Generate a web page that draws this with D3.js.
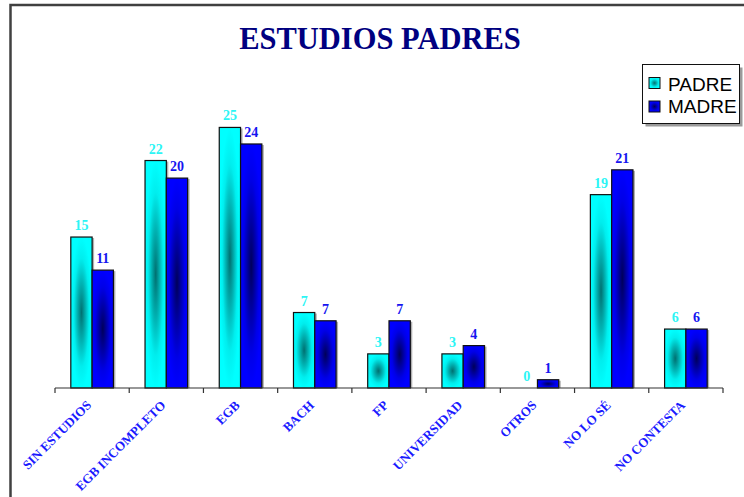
<!DOCTYPE html>
<html>
<head>
<meta charset="utf-8">
<script src="https://cdn.jsdelivr.net/npm/d3@7"></script>
<style>
  body { margin: 0; background: #fff; }
  svg { display: block; }
</style>
</head>
<body>
<div id="chart"></div>
<script>
// datos (porcentaje sobre 123 respuestas), etiquetas redondeadas
const categorias = ["SIN ESTUDIOS", "EGB INCOMPLETO", "EGB", "BACH", "FP", "UNIVERSIDAD", "OTROS", "NO LO SÉ", "NO CONTESTA"]
const padre = [14.6, 22.0, 25.2, 7.3, 3.3, 3.3, 0, 18.7, 5.7]
const madre = [11.4, 20.3, 23.6, 6.5, 6.5, 4.1, 0.8, 21.1, 5.7]
const series = ["PADRE", "MADRE"]

const width = 744, height = 497
const serif = '"Liberation Serif", "Times New Roman", serif'

const svg = d3.select("#chart").append("svg")
  .attr("width", width)
  .attr("height", height)

// degradados tipo "desde el centro"
const defs = svg.append("defs")
function grad(id, stops) {
  const g = defs.append("radialGradient").attr("id", id)
    .attr("cx", 0.5).attr("cy", 0.5).attr("r", 0.5)
  stops.forEach(s => g.append("stop").attr("offset", s[0]).attr("stop-color", s[1]))
}
grad("gPadre", [[0, "#007070"], [0.4, "#00b4b4"], [0.72, "#00eeee"], [1, "#00ffff"]])
grad("gMadre", [[0, "#00005a"], [0.4, "#0000aa"], [0.72, "#0000e8"], [1, "#0000ff"]])

// marco del gráfico
svg.append("rect")
  .attr("x", 10.5).attr("y", 5)
  .attr("width", 780).attr("height", 520)
  .attr("fill", "none")
  .attr("stroke", "#404040")
  .attr("stroke-width", 2.5)

// titulo
svg.append("text")
  .attr("x", 380).attr("y", 49)
  .attr("text-anchor", "middle")
  .attr("font-family", serif)
  .attr("font-weight", "bold")
  .attr("font-size", 30.5)
  .attr("fill", "#000080")
  .text("ESTUDIOS PADRES")

const x = d3.scaleBand()
  .domain(categorias)
  .range([55, 723])
  .padding(0)

const y = d3.scaleLinear()
  .domain([0, 30])
  .range([388, 77.8])

const barW = 21.3

const filas = categorias.map((c, i) => ({ cat: c, padre: padre[i], madre: madre[i] }))

const grupos = svg.selectAll(".grupo")
  .data(filas)
  .enter().append("g")
  .attr("class", "grupo")
  .attr("transform", d => "translate(" + (x(d.cat) + x.bandwidth() / 2) + ",0)")

const conf = [
  { key: "padre", dx: -barW, fill: "url(#gPadre)", label: "#2cf5f5" },
  { key: "madre", dx: 0, fill: "url(#gMadre)", label: "#1515f0" }
]

conf.forEach(s => {
  // sombra
  grupos.filter(d => d[s.key] > 0).append("rect")
    .attr("x", s.dx + 2)
    .attr("y", d => y(d[s.key]) + 1)
    .attr("width", barW)
    .attr("height", d => y(0) - y(d[s.key]) - 1)
    .attr("fill", "#b0b0b0")
  grupos.filter(d => d[s.key] > 0).append("rect")
    .attr("x", s.dx)
    .attr("y", d => y(d[s.key]))
    .attr("width", barW)
    .attr("height", d => y(0) - y(d[s.key]))
    .attr("fill", s.fill)
    .attr("stroke", "#111")
    .attr("stroke-width", 1.2)
  grupos.append("text")
    .attr("x", s.dx + barW / 2)
    .attr("y", d => y(d[s.key]) - 7)
    .attr("text-anchor", "middle")
    .attr("font-family", serif)
    .attr("font-weight", "bold")
    .attr("font-size", 14)
    .attr("fill", s.label)
    .text(d => Math.round(d[s.key]))
})

// eje x
const eje = svg.append("g")
eje.append("line")
  .attr("x1", x.range()[0]).attr("x2", x.range()[1])
  .attr("y1", 388).attr("y2", 388)
  .attr("stroke", "#333").attr("stroke-width", 1.2)
const bordes = categorias.map(c => x(c)).concat([x.range()[1]])
eje.selectAll(".tick")
  .data(bordes)
  .enter().append("line")
  .attr("x1", d => d).attr("x2", d => d)
  .attr("y1", 388).attr("y2", 393)
  .attr("stroke", "#333").attr("stroke-width", 1.2)

eje.selectAll(".lbl")
  .data(categorias)
  .enter().append("text")
  .attr("transform", d => "translate(" + (x(d) + x.bandwidth() / 2) + ",406) rotate(-45)")
  .attr("text-anchor", "end")
  .attr("font-family", serif)
  .attr("font-weight", "bold")
  .attr("font-size", 13)
  .attr("fill", "#1a1aff")
  .text(d => d)

// leyenda
const ley = svg.append("g")
ley.append("rect")
  .attr("x", 645.5).attr("y", 67.5).attr("width", 97).attr("height", 59)
  .attr("fill", "#9a9a9a")
ley.append("rect")
  .attr("x", 642.5).attr("y", 64.5).attr("width", 97).attr("height", 59)
  .attr("fill", "#fff").attr("stroke", "#111").attr("stroke-width", 1)
series.forEach((s, i) => {
  ley.append("rect")
    .attr("x", 649).attr("y", 77.5 + i * 23.5)
    .attr("width", 11).attr("height", 11)
    .attr("fill", i === 0 ? "url(#gPadre)" : "url(#gMadre)")
    .attr("stroke", "#111").attr("stroke-width", 1)
  ley.append("text")
    .attr("x", 668).attr("y", 90.5 + i * 22.7)
    .attr("font-family", '"Liberation Sans", Arial, sans-serif')
    .attr("font-size", 19)
    .attr("fill", "#000")
    .text(s)
})
</script>
</body>
</html>
